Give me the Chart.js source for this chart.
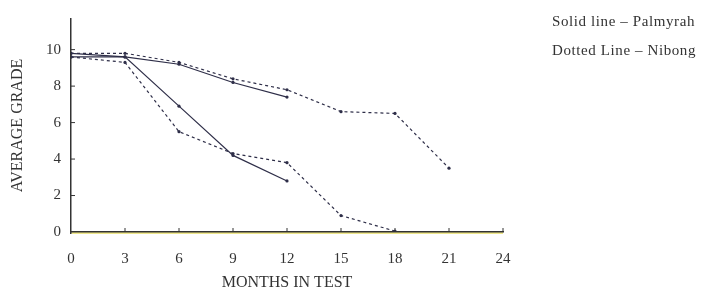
<!DOCTYPE html>
<html>
<head>
<meta charset="utf-8">
<script src="https://cdn.jsdelivr.net/npm/chart.js@4"></script>
<style>
    html, body { margin: 0; padding: 0; background: #fff; }
    #wrap { position: relative; width: 707px; height: 298px; }
    .note {
        position: absolute;
        left: 552px;
        font-family: "Liberation Serif", serif;
        font-size: 15px;
        letter-spacing: 0.6px;
        color: #333;
        white-space: nowrap;
    }
</style>
</head>
<body>
<div id="wrap">
    <canvas id="gradeChart" width="707" height="298"></canvas>
    <div class="note" style="top:13px;">Solid line – Palmyrah</div>
    <div class="note" style="top:42px;">Dotted Line – Nibong</div>
</div>
<script>
const months = [0, 3, 6, 9, 12, 15, 18, 21];
const xTicks = [0, 3, 6, 9, 12, 15, 18, 21, 24];
const yTicks = [0, 2, 4, 6, 8, 10];

// upper pair
const palmyrahSlow = [9.6, 9.6, 9.2, 8.2, 7.4];
const nibongSlow = [9.8, 9.8, 9.3, 8.4, 7.8, 6.6, 6.5, 3.5];
// lower pair
const palmyrahFast = [9.8, 9.6, 6.9, 4.2, 2.8];
const nibongFast = [9.6, 9.3, 5.5, 4.3, 3.8, 0.9, 0.05];

const toPoints = (vals) => vals.map((v, i) => ({x: months[i], y: v}));

const ink = '#2e2e48';

const lineStyle = (dashed) => ({
    borderColor: ink,
    borderWidth: 1.2,
    borderDash: dashed ? [3, 3] : [],
    pointRadius: 1.6,
    pointBackgroundColor: ink,
    pointBorderWidth: 0,
    tension: 0,
    fill: false
});

// small inward tick marks like the printed figure
const innerTicks = {
    id: 'innerTicks',
    afterDraw(chart) {
        const c = chart.ctx;
        const xs = chart.scales.x;
        const ys = chart.scales.y;
        const a = chart.chartArea;
        c.save();
        c.strokeStyle = '#333';
        c.lineWidth = 1;
        xTicks.slice(1).forEach(v => {
            const px = xs.getPixelForValue(v);
            c.beginPath();
            c.moveTo(px, a.bottom);
            c.lineTo(px, a.bottom - 4);
            c.stroke();
        });
        yTicks.slice(1).forEach(v => {
            const py = ys.getPixelForValue(v);
            c.beginPath();
            c.moveTo(a.left, py);
            c.lineTo(a.left + 4, py);
            c.stroke();
        });
        c.restore();
    }
};

const serif = {family: '"Liberation Serif", serif', size: 15};
const titleFont = {family: '"Liberation Serif", serif', size: 16};

new Chart(document.getElementById('gradeChart'), {
    type: 'line',
    data: {
        datasets: [
            Object.assign({label: 'Palmyrah', data: toPoints(palmyrahSlow)}, lineStyle(false)),
            Object.assign({label: 'Nibong', data: toPoints(nibongSlow)}, lineStyle(true)),
            Object.assign({label: 'Palmyrah', data: toPoints(palmyrahFast)}, lineStyle(false)),
            Object.assign({label: 'Nibong', data: toPoints(nibongFast)}, lineStyle(true))
        ]
    },
    options: {
        responsive: false,
        animation: false,
        layout: {
            padding: {left: 0, top: 17, right: 204, bottom: 0}
        },
        plugins: {
            legend: {display: false},
            tooltip: {enabled: false}
        },
        scales: {
            x: {
                type: 'linear',
                min: 0,
                max: 24,
                afterBuildTicks: (s) => { s.ticks = xTicks.map(v => ({value: v})); },
                afterFit: (s) => { s.height = 66; },
                ticks: {color: '#333', font: serif, padding: 10},
                grid: {display: false},
                border: {color: '#333', width: 1.5},
                title: {
                    display: true,
                    text: 'MONTHS IN TEST',
                    color: '#333',
                    font: titleFont,
                    padding: {bottom: 6}
                }
            },
            y: {
                min: 0,
                max: 11.68,
                afterBuildTicks: (s) => { s.ticks = yTicks.map(v => ({value: v})); },
                afterFit: (s) => { s.width = 71; },
                ticks: {color: '#333', font: serif, padding: 10},
                grid: {
                    drawTicks: false,
                    lineWidth: 3,
                    color: (ctx) => ctx.tick && ctx.tick.value === 0 ? 'rgba(235,225,110,0.8)' : 'rgba(0,0,0,0)'
                },
                border: {color: '#333', width: 1.5},
                title: {
                    display: true,
                    text: 'AVERAGE GRADE',
                    color: '#333',
                    font: titleFont,
                    padding: {top: 8}
                }
            }
        }
    },
    plugins: [innerTicks]
});
</script>
</body>
</html>
